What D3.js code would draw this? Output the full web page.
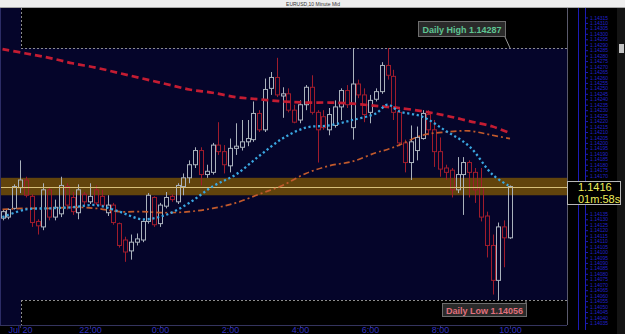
<!DOCTYPE html>
<html><head><meta charset="utf-8">
<script src="https://cdn.jsdelivr.net/npm/d3@7/dist/d3.min.js"></script>
<style>
html,body{margin:0;padding:0;background:#000;overflow:hidden}
svg{display:block;font-family:"Liberation Sans",Arial,sans-serif}
</style></head><body>
<script>
// ---- data (EURUSD 10-minute bars) ----
const opens = [1.14131,1.14132,1.14140,1.14159,1.14166,1.14151,1.14128,1.14123,1.14157,1.14132,
1.14135,1.14160,1.14150,1.14136,1.14153,1.14146,1.14157,1.14151,1.14136,1.14143,
1.14126,1.14111,1.14101,1.14109,1.14111,1.14128,1.14150,1.14126,1.14142,1.14151,
1.14146,1.14160,1.14168,1.14180,1.14193,1.14171,1.14173,1.14198,1.14192,1.14179,
1.14195,1.14196,1.14201,1.14203,1.14227,1.14212,1.14250,1.14260,1.14243,1.14245,
1.14230,1.14221,1.14235,1.14251,1.14228,1.14224,1.14212,1.14216,1.14233,1.14248,
1.14214,1.14254,1.14244,1.14228,1.14240,1.14247,1.14271,1.14261,1.14228,1.14200,
1.14182,1.14193,1.14204,1.14226,1.14212,1.14192,1.14177,1.14175,1.14157,1.14171,
1.14182,1.14173,1.14159,1.14133,1.14106,1.14074,1.14123,1.14113];
const highs = [1.14139,1.14140,1.14162,1.14184,1.14169,1.14153,1.14130,1.14163,1.14159,1.14148,
1.14169,1.14163,1.14155,1.14162,1.14155,1.14163,1.14161,1.14157,1.14152,1.14145,
1.14127,1.14114,1.14116,1.14117,1.14129,1.14154,1.14151,1.14145,1.14155,1.14153,
1.14163,1.14172,1.14184,1.14196,1.14196,1.14180,1.14200,1.14219,1.14198,1.14204,
1.14218,1.14221,1.14221,1.14238,1.14230,1.14259,1.14265,1.14278,1.14251,1.14250,
1.14235,1.14239,1.14253,1.14262,1.14230,1.14230,1.14232,1.14239,1.14250,1.14253,
1.14287,1.14258,1.14250,1.14244,1.14250,1.14274,1.14287,1.14267,1.14232,1.14203,
1.14216,1.14215,1.14230,1.14230,1.14221,1.14205,1.14180,1.14177,1.14187,1.14187,
1.14184,1.14177,1.14177,1.14137,1.14116,1.14127,1.14129,1.14161];
const lows = [1.14129,1.14130,1.14139,1.14154,1.14150,1.14123,1.14116,1.14120,1.14129,1.14129,
1.14132,1.14139,1.14134,1.14130,1.14143,1.14144,1.14143,1.14141,1.14133,1.14125,
1.14104,1.14091,1.14093,1.14106,1.14109,1.14126,1.14123,1.14123,1.14140,1.14146,
1.14144,1.14152,1.14163,1.14177,1.14161,1.14168,1.14171,1.14189,1.14172,1.14173,
1.14189,1.14193,1.14197,1.14201,1.14210,1.14210,1.14244,1.14242,1.14223,1.14228,
1.14218,1.14218,1.14230,1.14226,1.14182,1.14212,1.14207,1.14214,1.14221,1.14232,
1.14203,1.14241,1.14219,1.14218,1.14238,1.14245,1.14258,1.14221,1.14197,1.14173,
1.14166,1.14184,1.14203,1.14207,1.14178,1.14169,1.14166,1.14150,1.14154,1.14134,
1.14150,1.14145,1.14128,1.14095,1.14061,1.14056,1.14086,1.14112];
const closes = [1.14137,1.14139,1.14160,1.14166,1.14152,1.14127,1.14124,1.14157,1.14132,1.14141,
1.14161,1.14143,1.14137,1.14157,1.14146,1.14151,1.14145,1.14143,1.14143,1.14127,
1.14106,1.14100,1.14109,1.14112,1.14128,1.14152,1.14125,1.14143,1.14150,1.14148,
1.14161,1.14168,1.14180,1.14193,1.14171,1.14174,1.14198,1.14192,1.14180,1.14195,
1.14197,1.14201,1.14204,1.14227,1.14212,1.14249,1.14260,1.14244,1.14245,1.14230,
1.14219,1.14235,1.14251,1.14228,1.14212,1.14214,1.14226,1.14233,1.14248,1.14235,
1.14254,1.14244,1.14226,1.14239,1.14247,1.14271,1.14262,1.14228,1.14200,1.14182,
1.14201,1.14205,1.14227,1.14212,1.14192,1.14176,1.14173,1.14157,1.14171,1.14182,
1.14173,1.14157,1.14132,1.14106,1.14074,1.14123,1.14113,1.14160];

// moving averages, sampled at these bar indices
const maIndex = [0,4,8,12,16,20,24,28,32,36,40,44,48,52,56,60,64,66,68,72,76,80,84,87];
const slowMA = [1.14286,1.14282,1.14278,1.14273,1.14269,1.14264,1.14259,1.14254,1.14249,1.14246,1.14242,1.14240,
1.14238,1.14237,1.14237,1.14236,1.14234,1.14233,1.14232,1.14229,1.14225,1.14220,1.14215,1.14209];
const midMA = [1.14139,1.14140,1.14140,1.14141,1.14140,1.14137,1.14137,1.14136,1.14137,1.14140,1.14145,1.14153,
1.14161,1.14172,1.14179,1.14183,1.14191,1.14194,1.14198,1.14207,1.14210,1.14211,1.14207,1.14204];
const fastMA = [1.14132,1.14139,1.14140,1.14141,1.14143,1.14137,1.14130,1.14134,1.14145,1.14160,1.14171,1.14188,
1.14204,1.14214,1.14216,1.14221,1.14227,1.14235,1.14229,1.14224,1.14211,1.14197,1.14171,1.14160];

const dailyHigh = 1.14287, dailyLow = 1.14056, lastPrice = 1.1416;
const countdown = "01m:58s";
const xTickLabels = ["Jul 20","22:00","0:00","2:00","4:00","6:00","8:00","10:00"];
const title = "EURUSD,10 Minute Mid";

// ---- drawing ----
const W = 625, H = 334;
const P = {l: 0, r: 567, t: 8, b: 325};
const svg = d3.select("body").append("svg").attr("width", W).attr("height", H);

const t0 = new Date(2018, 6, 20, 19, 30);
const times = opens.map((d, i) => new Date(+t0 + i * 600000));
const x = d3.scaleTime().domain([times[0], times[times.length - 1]]).range([2.5, 510]);
const y = d3.scaleLinear().domain([dailyLow, dailyHigh]).range([300, 48]);

// plot background
svg.append("rect").attr("x", 0).attr("y", 0).attr("width", W).attr("height", H).attr("fill", "#000");
svg.append("rect").attr("x", P.l).attr("y", P.t).attr("width", P.r - P.l).attr("height", P.b - P.t).attr("fill", "#05052a");

// daily high / low zones (black)
const zx = 21;
svg.append("rect").attr("x", zx).attr("y", P.t).attr("width", P.r - zx).attr("height", y(dailyHigh) - P.t).attr("fill", "#000");
svg.append("rect").attr("x", zx).attr("y", y(dailyLow)).attr("width", P.r - zx).attr("height", P.b - y(dailyLow)).attr("fill", "#000");
const dash = svg.append("g").attr("stroke", "#8c8c8c").attr("stroke-width", 1).attr("stroke-dasharray", "2,2").attr("fill", "none");
dash.append("line").attr("x1", zx).attr("x2", P.r).attr("y1", Math.round(y(dailyHigh)) + 0.5).attr("y2", Math.round(y(dailyHigh)) + 0.5);
dash.append("line").attr("x1", zx + 0.5).attr("x2", zx + 0.5).attr("y1", P.t).attr("y2", y(dailyHigh));
dash.append("line").attr("x1", zx).attr("x2", P.r).attr("y1", Math.round(y(dailyLow)) + 0.5).attr("y2", Math.round(y(dailyLow)) + 0.5);
dash.append("line").attr("x1", zx + 0.5).attr("x2", zx + 0.5).attr("y1", y(dailyLow)).attr("y2", P.b);

// current price band
const bandHalf = 0.00008;
svg.append("rect").attr("x", P.l).attr("width", P.r - P.l)
  .attr("y", y(lastPrice + bandHalf)).attr("height", y(lastPrice - bandHalf) - y(lastPrice + bandHalf))
  .attr("fill", "#62440c");

// candles
const upCol = "#aab2bc", dnCol = "#a01c2c";
const cg = svg.append("g");
opens.forEach((o, i) => {
  const c = closes[i], up = c >= o, col = up ? upCol : dnCol;
  const cx = Math.round(x(times[i])) + 0.5;
  const top = y(Math.max(o, c)), bot = y(Math.min(o, c));
  cg.append("line").attr("x1", cx).attr("x2", cx).attr("y1", y(highs[i])).attr("y2", top).attr("stroke", col);
  cg.append("line").attr("x1", cx).attr("x2", cx).attr("y1", bot).attr("y2", y(lows[i])).attr("stroke", col);
  cg.append("rect").attr("x", cx - 2).attr("width", 4).attr("y", top).attr("height", Math.max(1, bot - top))
    .attr("fill", "none").attr("stroke", col).attr("stroke-width", 1);
});

// price line
svg.append("line").attr("x1", P.l).attr("x2", P.r).attr("y1", Math.round(y(lastPrice)) + 0.5).attr("y2", Math.round(y(lastPrice)) + 0.5)
  .attr("stroke", "#d8c07a").attr("stroke-width", 1);

// moving averages
const maLine = vals => d3.line().curve(d3.curveCatmullRom)
  .x((d, k) => x(times[maIndex[k]])).y(d => y(d))(vals);
svg.append("path").attr("d", maLine(midMA)).attr("fill", "none").attr("stroke", "#c25a2c")
  .attr("stroke-width", 1.7).attr("stroke-dasharray", "6,3,2,3");
svg.append("path").attr("d", maLine(slowMA)).attr("fill", "none").attr("stroke", "#c41c32")
  .attr("stroke-width", 2.7).attr("stroke-dasharray", "7,4");
svg.append("path").attr("d", maLine(fastMA)).attr("fill", "none").attr("stroke", "#3aa6e0")
  .attr("stroke-width", 2.3).attr("stroke-dasharray", "2.2,2.6");

// left edge line
svg.append("line").attr("x1", 0.5).attr("x2", 0.5).attr("y1", P.t).attr("y2", P.b).attr("stroke", "#2c2c66");

// bottom axis
const xTicks = d3.timeHour.every(2).range(times[0], new Date(+times[times.length - 1] + 1));
const xAxis = d3.axisBottom(x).tickValues(xTicks).tickSize(3).tickPadding(0)
  .tickFormat((d, i) => xTickLabels[i]);
const xg = svg.append("g").attr("transform", `translate(0,${P.b})`).call(xAxis);
xg.select(".domain").attr("d", `M0,0.5H${P.r}`).attr("stroke", "#34345e");
xg.selectAll(".tick line").attr("stroke", "#34345e");
xg.selectAll(".tick text").attr("fill", "#2f2fbf").attr("font-size", 9).attr("dy", "0.75em").attr("y", 1.5)
  .attr("font-family", "Liberation Sans, Arial, sans-serif");

// right price axis
svg.append("rect").attr("x", P.r).attr("y", P.t).attr("width", 50).attr("height", H - P.t).attr("fill", "#000");
svg.append("line").attr("x1", P.r + 0.5).attr("x2", P.r + 0.5).attr("y1", P.t).attr("y2", P.b).attr("stroke", "#5a5a6c");
[578.5, 585.5].forEach(lx => svg.append("line").attr("x1", lx).attr("x2", lx).attr("y1", P.t).attr("y2", H - 4).attr("stroke", "#1c1cb4"));
const yTicks = d3.range(1.14035, 1.14325, 0.00005)
  .filter(v => y(v) > 13 && y(v) < 329 && (y(v) < 178 || y(v) > 209));
const yAxis = d3.axisRight(y).tickValues(yTicks).tickSize(3).tickPadding(2).tickFormat(d3.format(".5f"));
const yg = svg.append("g").attr("transform", `translate(585,0)`).call(yAxis);
yg.select(".domain").remove();
yg.selectAll(".tick line").attr("stroke", "#1c1cb4");
yg.selectAll(".tick text").attr("fill", "#2222cc").attr("font-size", 5).attr("font-family", "Liberation Sans, Arial, sans-serif");

// scrollbar
svg.append("rect").attr("x", 617).attr("y", P.t).attr("width", 8).attr("height", H - P.t).attr("fill", "#141414");
svg.append("rect").attr("x", 619).attr("y", 44).attr("width", 5).attr("height", 9).attr("fill", "#c4c4c4");

// last price box
const bx = svg.append("g");
bx.append("rect").attr("x", 567.5).attr("y", 181.5).attr("width", 53).attr("height", 23).attr("fill", "#000").attr("stroke", "#b8b8b8");
bx.append("text").attr("x", 578).attr("y", 191).attr("fill", "#eeee5c").attr("font-size", 11).text(d3.format(".4f")(lastPrice));
bx.append("text").attr("x", 578).attr("y", 203).attr("fill", "#eeee5c").attr("font-size", 11).text(countdown);

// daily high label
const hg = svg.append("g");
hg.append("line").attr("x1", 505).attr("y1", 37).attr("x2", 510).attr("y2", y(dailyHigh)).attr("stroke", "#9a9a9a");
hg.append("rect").attr("x", 418.5).attr("y", 21.5).attr("width", 87).attr("height", 15).attr("fill", "#2a2a2a").attr("stroke", "#6e6e6e");
hg.append("text").attr("x", 462).attr("y", 32.5).attr("text-anchor", "middle").attr("fill", "#5ec492")
  .attr("font-size", 9).attr("font-weight", "bold").text("Daily High " + d3.format(".5f")(dailyHigh));

// daily low label
const lg = svg.append("g");
lg.append("line").attr("x1", 526).attr("y1", y(dailyLow)).attr("x2", 526).attr("y2", 304).attr("stroke", "#9a9a9a");
lg.append("rect").attr("x", 442.5).attr("y", 303.5).attr("width", 84).attr("height", 13).attr("fill", "#2a2a2a").attr("stroke", "#6e6e6e");
lg.append("text").attr("x", 484.5).attr("y", 313.5).attr("text-anchor", "middle").attr("fill", "#e0707c")
  .attr("font-size", 9).attr("font-weight", "bold").text("Daily Low " + d3.format(".5f")(dailyLow));

// title bar
svg.append("rect").attr("x", 0).attr("y", 0).attr("width", W).attr("height", P.t).attr("fill", "#eeeeee");
svg.append("line").attr("x1", 0).attr("x2", W).attr("y1", P.t - 0.5).attr("y2", P.t - 0.5).attr("stroke", "#a8a8a8");
svg.append("text").attr("x", 313).attr("y", 6).attr("text-anchor", "middle").attr("font-size", 5).attr("fill", "#333").text(title);
</script>
</body></html>
